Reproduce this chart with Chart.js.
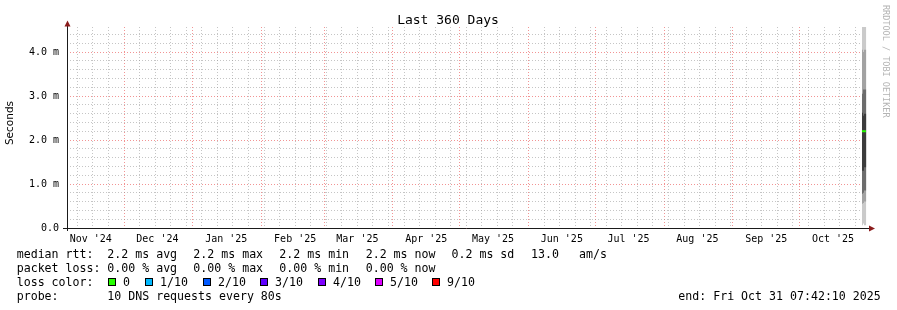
<!DOCTYPE html>
<html>
<head>
<meta charset="utf-8">
<script src="https://cdn.jsdelivr.net/npm/chart.js@4.4.1/dist/chart.umd.min.js"></script>
<style>
  body { margin: 0; background: #ffffff; }
  canvas { display: block; }
</style>
</head>
<body>
<canvas id="smokeChart" width="897" height="310"></canvas>
<script>
// ==================== DATA ====================

const startTime = Date.UTC(2024, 10, 5, 7, 42, 10);
const endTime = Date.UTC(2025, 9, 31, 7, 42, 10);

// month boundaries (red grid) and month labels (centred mid-month)
const monthStarts = ['2024-12-01', '2025-01-01', '2025-02-01', '2025-03-01', '2025-04-01', '2025-05-01',
                     '2025-06-01', '2025-07-01', '2025-08-01', '2025-09-01', '2025-10-01'];
const monthLabelDates = ['2024-11-16', '2024-12-16', '2025-01-16', '2025-02-16', '2025-03-16', '2025-04-16',
                         '2025-05-16', '2025-06-16', '2025-07-16', '2025-08-16', '2025-09-16', '2025-10-16'];
const monthLabels = ["Nov '24", "Dec '24", "Jan '25", "Feb '25", "Mar '25", "Apr '25",
                     "May '25", "Jun '25", "Jul '25", "Aug '25", "Sep '25", "Oct '25"];
const firstWeekLine = '2024-11-10';

// y axis (milliseconds)
const yMax = 4.57;
const yMinorStep = 0.2;

// smoke: only the last two days hold data
const smokeTimes = ['2025-10-29T01:00Z', '2025-10-29T12:00Z', '2025-10-29T23:00Z', '2025-10-30T10:00Z', '2025-10-31T00:00Z'];
const smokeLow = [
    [0.08, 0.06, 0.10, 0.06],
    [0.58, 0.55, 0.57, 0.60],
    [0.82, 0.78, 0.80, 0.85],
    [1.35, 1.30, 1.30, 1.38]
];
const smokeHigh = [
    [4.57, 4.57, 4.57, 4.57],
    [4.30, 4.05, 4.00, 4.05],
    [3.00, 3.05, 3.15, 3.15],
    [2.60, 2.62, 2.55, 2.60]
];
const smokeColors = ['#cacaca', '#a2a2a2', '#6c6c6c', '#3c3c3c'];

const medianTimes = ['2025-10-29T01:00Z', '2025-10-30T20:00Z'];
const medianValues = [2.2, 2.2];

const lossColors = ['#26ff00', '#00b8ff', '#0059ff', '#5e00ff', '#7e00ff', '#dd00ff', '#ff0000'];
const lossLabels = ['0', '1/10', '2/10', '3/10', '4/10', '5/10', '9/10'];

// ==================== CHART ====================

const DAY = 86400000;
const ts = s => Date.parse(s.length === 10 ? s + 'T00:00:00Z' : s);

const monthStartVals = monthStarts.map(ts);
const labelVals = monthLabelDates.map(ts);
const gridVals = [];
for (let t = ts(firstWeekLine); t < endTime; t += 7 * DAY) gridVals.push(t);
const xTickVals = [...new Set([...gridVals, ...monthStartVals, ...labelVals])].sort((a, b) => a - b);

function stepPoints(vals) {
    const pts = vals.map((v, i) => ({ x: ts(smokeTimes[i]), y: v }));
    pts.push({ x: ts(smokeTimes[vals.length]), y: vals[vals.length - 1] });
    return pts;
}

const datasets = [];
smokeLow.forEach((low, i) => {
    datasets.push({ data: stepPoints(low), borderWidth: 0, pointRadius: 0, stepped: 'after', fill: false, order: 20 - i });
    datasets.push({ data: stepPoints(smokeHigh[i]), borderWidth: 0, pointRadius: 0, stepped: 'after', fill: '-1',
                    backgroundColor: smokeColors[i], order: 20 - i });
});
datasets.push({ data: medianTimes.map((t, i) => ({ x: ts(t), y: medianValues[i] })), borderColor: lossColors[0],
                borderWidth: 2, pointRadius: 0, fill: false, order: 0 });

const mono = 'DejaVu Sans Mono';

const rrdDecor = {
    id: 'rrdDecor',
    afterDraw(chart) {
        const ctx = chart.ctx;
        const a = chart.chartArea;
        ctx.save();

        // axes with arrows
        ctx.strokeStyle = '#1a1a1a';
        ctx.lineWidth = 1;
        ctx.beginPath();
        ctx.moveTo(63, a.bottom + 0.5); ctx.lineTo(870, a.bottom + 0.5);
        ctx.moveTo(a.left + 0.5, a.bottom + 3); ctx.lineTo(a.left + 0.5, 25);
        ctx.stroke();
        ctx.fillStyle = '#8b1c1c';
        ctx.beginPath();
        ctx.moveTo(875, a.bottom + 0.5); ctx.lineTo(869, a.bottom - 2.5); ctx.lineTo(869, a.bottom + 3.5); ctx.closePath();
        ctx.fill();
        ctx.beginPath();
        ctx.moveTo(a.left + 0.5, 20.5); ctx.lineTo(a.left - 2.5, 26.5); ctx.lineTo(a.left + 3.5, 26.5); ctx.closePath();
        ctx.fill();

        // title
        ctx.fillStyle = '#000';
        ctx.font = '13px "' + mono + '"';
        ctx.textAlign = 'center';
        ctx.textBaseline = 'alphabetic';
        ctx.fillText('Last 360 Days', 448, 24);

        // y axis title
        ctx.save();
        ctx.translate(13, 123);
        ctx.rotate(-Math.PI / 2);
        ctx.font = '10.5px "DejaVu Sans"';
        ctx.fillText('Seconds', 0, 0);
        ctx.restore();

        // watermark
        ctx.save();
        ctx.translate(883, 5);
        ctx.rotate(Math.PI / 2);
        ctx.font = '8.5px "' + mono + '"';
        ctx.fillStyle = '#b4b4b4';
        ctx.textAlign = 'left';
        ctx.fillText('RRDTOOL / TOBI OETIKER', 0, 0);
        ctx.restore();

        // legend
        ctx.font = '11.6px "' + mono + '"';
        ctx.textAlign = 'left';
        ctx.fillStyle = '#000';
        const cols = [107.3, 193.3, 279.3, 365.7];
        const rows = [258, 272, 286, 300];
        ctx.fillText('median rtt:', 16.7, rows[0]);
        ['2.2 ms avg', '2.2 ms max', '2.2 ms min', '2.2 ms now'].forEach((s, i) => ctx.fillText(s, cols[i], rows[0]));
        ctx.fillText('0.2 ms sd', 451.5, rows[0]);
        ctx.fillText('13.0', 531, rows[0]);
        ctx.fillText('am/s', 579, rows[0]);

        ctx.fillText('packet loss:', 16.7, rows[1]);
        ['0.00 % avg', '0.00 % max', '0.00 % min', '0.00 % now'].forEach((s, i) => ctx.fillText(s, cols[i], rows[1]));

        ctx.fillText('loss color:', 16.7, rows[2]);
        const boxX = [108, 145, 203, 260, 318, 375, 432];
        boxX.forEach((bx, i) => {
            const x = bx + 0.5;
            ctx.fillStyle = lossColors[i];
            ctx.fillRect(x, 278.5, 7, 7);
            ctx.strokeStyle = '#000';
            ctx.strokeRect(x, 278.5, 7, 7);
            ctx.fillStyle = '#000';
            ctx.fillText(lossLabels[i], bx + 15, rows[2]);
        });

        ctx.fillText('probe:', 16.7, rows[3]);
        ctx.fillText('10 DNS requests every 80s', 107.3, rows[3]);
        ctx.fillText('end: Fri Oct 31 07:42:10 2025', 678.3, rows[3]);
        ctx.restore();
    }
};

const isMonthStart = v => monthStartVals.includes(v);
const isLabelOnly = v => labelVals.includes(v) && !gridVals.includes(v) && !isMonthStart(v);
const isMajorY = v => Math.abs(v - Math.round(v)) < 1e-6;

const smokeChart = new Chart(document.getElementById('smokeChart').getContext('2d'), {
    type: 'line',
    data: { datasets: datasets },
    plugins: [rrdDecor],
    options: {
        responsive: false,
        animation: false,
        events: [],
        layout: { padding: { top: 27, right: 30, bottom: 62, left: 0 } },
        plugins: { legend: { display: false }, tooltip: { enabled: false }, title: { display: false } },
        scales: {
            x: {
                type: 'linear',
                min: startTime,
                max: endTime,
                afterBuildTicks: s => { s.ticks = xTickVals.map(v => ({ value: v })); },
                afterFit: s => { s.height = 20; },
                grid: {
                    drawTicks: false,
                    lineWidth: 1,
                    color: c => isLabelOnly(c.tick.value) ? 'rgba(0,0,0,0)'
                              : isMonthStart(c.tick.value) ? 'rgba(235,90,90,0.65)' : 'rgba(150,150,150,0.55)'
                },
                border: { display: false, dash: [1, 2] },
                ticks: {
                    autoSkip: false, maxRotation: 0, padding: 5, color: '#000',
                    font: { family: mono, size: 10 },
                    callback: v => { const k = labelVals.indexOf(v); return k >= 0 ? monthLabels[k] : ''; }
                }
            },
            y: {
                type: 'linear',
                min: 0,
                max: yMax,
                afterBuildTicks: s => {
                    const t = [];
                    for (let i = 0; i * yMinorStep <= yMax; i++) t.push({ value: Math.round(i * yMinorStep * 10) / 10 });
                    s.ticks = t;
                },
                afterFit: s => { s.width = 67; },
                grid: {
                    drawTicks: false,
                    lineWidth: 1,
                    color: c => isMajorY(c.tick.value) ? 'rgba(235,90,90,0.65)' : 'rgba(150,150,150,0.55)'
                },
                border: { display: false, dash: [1, 2] },
                ticks: {
                    autoSkip: false, padding: 8, color: '#000',
                    font: { family: mono, size: 10 },
                    callback: v => !isMajorY(v) ? '' : v === 0 ? '0.0' : v.toFixed(1) + ' m'
                }
            }
        }
    }
});
</script>
</body>
</html>
